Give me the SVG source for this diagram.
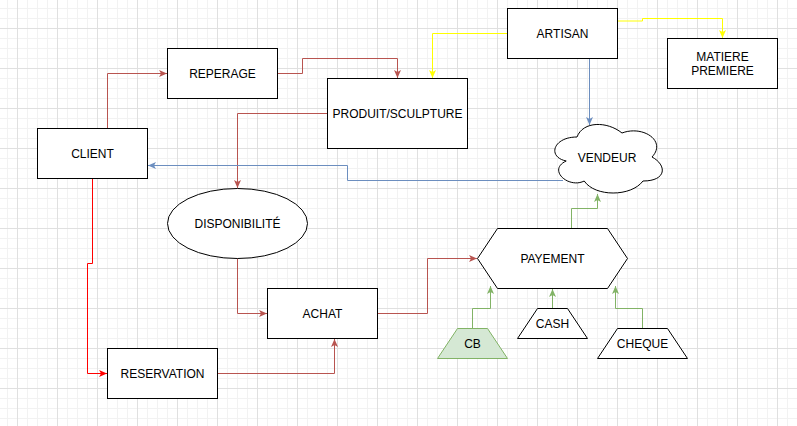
<svg xmlns="http://www.w3.org/2000/svg" width="797" height="426" viewBox="0 0 797 426">
  <defs>
    <pattern id="grid" patternUnits="userSpaceOnUse" x="17" y="28" width="40" height="40">
      <rect x="10" y="0" width="1" height="40" fill="#f2f2f2"/>
      <rect x="20" y="0" width="1" height="40" fill="#f2f2f2"/>
      <rect x="30" y="0" width="1" height="40" fill="#f2f2f2"/>
      <rect x="0" y="10" width="40" height="1" fill="#f2f2f2"/>
      <rect x="0" y="20" width="40" height="1" fill="#f2f2f2"/>
      <rect x="0" y="30" width="40" height="1" fill="#f2f2f2"/>
      <rect x="0" y="0" width="1" height="40" fill="#e0e0e0"/>
      <rect x="0" y="0" width="40" height="1" fill="#e0e0e0"/>
    </pattern>
    <marker id="arRed" markerUnits="userSpaceOnUse" markerWidth="12" markerHeight="12" viewBox="-10 -6 12 12" refX="0" refY="0" orient="auto">
      <path d="M-8,-3.5 L0,0 L-8,3.5 L-6,0 z" fill="#b85450"/>
    </marker>
    <marker id="arBright" markerUnits="userSpaceOnUse" markerWidth="12" markerHeight="12" viewBox="-10 -6 12 12" refX="0" refY="0" orient="auto">
      <path d="M-8,-3.5 L0,0 L-8,3.5 L-6,0 z" fill="#ff0000"/>
    </marker>
    <marker id="arBlue" markerUnits="userSpaceOnUse" markerWidth="12" markerHeight="12" viewBox="-10 -6 12 12" refX="0" refY="0" orient="auto">
      <path d="M-8,-3.5 L0,0 L-8,3.5 L-6,0 z" fill="#6c8ebf"/>
    </marker>
    <marker id="arYellow" markerUnits="userSpaceOnUse" markerWidth="12" markerHeight="12" viewBox="-10 -6 12 12" refX="0" refY="0" orient="auto">
      <path d="M-8,-3.5 L0,0 L-8,3.5 L-6,0 z" fill="#ffff00"/>
    </marker>
    <marker id="arGreen" markerUnits="userSpaceOnUse" markerWidth="12" markerHeight="12" viewBox="-10 -6 12 12" refX="0" refY="0" orient="auto">
      <path d="M-8,-3.5 L0,0 L-8,3.5 L-6,0 z" fill="#82b366"/>
    </marker>
  </defs>
  <style>
    .shape { fill: #ffffff; stroke: #000000; stroke-width: 1; }
    .green-shape { fill: #d5e8d4; stroke: #82b366; stroke-width: 1; }
    .label { font-family: "Liberation Sans", Arial, sans-serif; font-size: 12px; fill: #000000; text-anchor: middle; dominant-baseline: central; }
    .edge { fill: none; stroke-width: 1; }
    .red { stroke: #b85450; marker-end: url(#arRed); }
    .bright { stroke: #ff0000; marker-end: url(#arBright); }
    .blue { stroke: #6c8ebf; marker-end: url(#arBlue); }
    .yellow { stroke: #ffff00; marker-end: url(#arYellow); }
    .green { stroke: #82b366; marker-end: url(#arGreen); }
  </style>

  <rect x="0" y="0" width="797" height="426" fill="#ffffff"/>
  <rect x="0" y="0" width="797" height="426" fill="url(#grid)"/>

  <g id="connectors">
    <path class="edge red" d="M107.5,128.5 V73.5 H167"/>
    <path class="edge red" d="M277.5,73.5 H302.5 V58.5 H397.5 V78"/>
    <path class="edge red" d="M327.5,113.5 H237.5 V188"/>
    <path class="edge blue" d="M563,180.5 H347.5 V165.5 H148"/>
    <path class="edge yellow" d="M507.5,33.5 H432.5 V78"/>
    <path class="edge yellow" d="M617.5,21 H642.5 V18.5 H722.5 V38"/>
    <path class="edge blue" d="M589.5,58.5 V125"/>
    <path class="edge green" d="M571.5,228.5 V208.5 H597.5 V194"/>
    <path class="edge red" d="M237.5,258.5 V313.5 H267"/>
    <path class="edge red" d="M217.5,373.5 H334.5 V339"/>
    <path class="edge bright" d="M92.5,178.5 V263.5 H87.5 V373.5 H107"/>
    <path class="edge red" d="M377.5,313.5 H427.5 V258.5 H477"/>
    <path class="edge green" d="M472.5,328.5 V308.5 H490.5 V286"/>
    <path class="edge green" d="M552.5,308.5 V289"/>
    <path class="edge green" d="M642.5,328.5 V308.5 H615.5 V286"/>
  </g>

  <g id="client">
    <rect class="shape" x="37.5" y="128.5" width="110" height="50"/>
    <text class="label" x="92.5" y="153.5">CLIENT</text>
  </g>
  <g id="reperage">
    <rect class="shape" x="167.5" y="48.5" width="110" height="50"/>
    <text class="label" x="222.5" y="73.5">REPERAGE</text>
  </g>
  <g id="produit">
    <rect class="shape" x="327.5" y="78.5" width="140" height="70"/>
    <text class="label" x="397.5" y="113.5">PRODUIT/SCULPTURE</text>
  </g>
  <g id="artisan">
    <rect class="shape" x="507.5" y="8.5" width="110" height="50"/>
    <text class="label" x="562.5" y="33.5">ARTISAN</text>
  </g>
  <g id="matiere">
    <rect class="shape" x="667.5" y="38.5" width="110" height="50"/>
    <text class="label" x="722.5" y="56.5">MATIERE</text>
    <text class="label" x="722.5" y="70.5">PREMIERE</text>
  </g>
  <g id="vendeur">
    <path class="shape" d="M577,137 C553,137 547,157 566.2,161 C547,169.8 568.6,189 584.2,181 C595,197 631,197 643,181 C667,181 667,165 652,157 C667,141 643,125 622,133 C607,121 583,121 577,137 Z"/>
    <text class="label" x="607" y="158">VENDEUR</text>
  </g>
  <g id="disponibilite">
    <ellipse class="shape" cx="237.5" cy="223.5" rx="70" ry="35"/>
    <text class="label" x="237.5" y="223.5">DISPONIBILITÉ</text>
  </g>
  <g id="achat">
    <rect class="shape" x="267.5" y="288.5" width="110" height="50"/>
    <text class="label" x="322.5" y="313.5">ACHAT</text>
  </g>
  <g id="reservation">
    <rect class="shape" x="107.5" y="348.5" width="110" height="50"/>
    <text class="label" x="162.5" y="373.5">RESERVATION</text>
  </g>
  <g id="payement">
    <polygon class="shape" points="477.5,258.5 497.5,228.5 607.5,228.5 627.5,258.5 607.5,288.5 497.5,288.5"/>
    <text class="label" x="552.5" y="258.5">PAYEMENT</text>
  </g>
  <g id="cb">
    <polygon class="green-shape" points="437.5,358.5 457.5,328.5 487.5,328.5 507.5,358.5"/>
    <text class="label" x="472.5" y="343.5">CB</text>
  </g>
  <g id="cash">
    <polygon class="shape" points="517.5,338.5 537.5,308.5 567.5,308.5 587.5,338.5"/>
    <text class="label" x="552.5" y="323.5">CASH</text>
  </g>
  <g id="cheque">
    <polygon class="shape" points="597.5,358.5 617.5,328.5 667.5,328.5 687.5,358.5"/>
    <text class="label" x="642.5" y="343.5">CHEQUE</text>
  </g>
</svg>
